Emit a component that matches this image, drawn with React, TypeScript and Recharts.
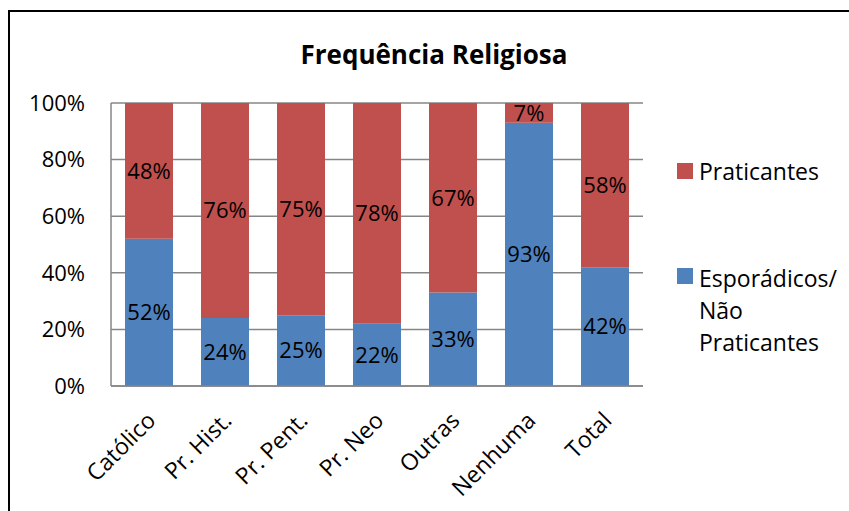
import { BarChart, Bar, XAxis, YAxis, CartesianGrid, LabelList } from "recharts";

const categories = ["Católico", "Pr. Hist.", "Pr. Pent.", "Pr. Neo", "Outras", "Nenhuma", "Total"];
const esporadicos = [52, 24, 25, 22, 33, 93, 42];
const praticantes = [48, 76, 75, 78, 67, 7, 58];
const yTicks = [0, 20, 40, 60, 80, 100];

const BLUE = "#4F81BD";
const RED = "#C0504D";
const GRID = "#868686";
const FONT = "'Open Sans', sans-serif";

const data = categories.map((c, i) => ({
  name: c,
  esporadicos: esporadicos[i],
  praticantes: praticantes[i],
}));

const pct = (v: any) => `${v}%`;

function XTick({ x, y, payload }: any) {
  return (
    <text
      x={x + 8}
      y={y + 28}
      transform={`rotate(-45, ${x + 8}, ${y + 28})`}
      textAnchor="end"
      fontSize={23}
      fontFamily={FONT}
      fill="#000"
    >
      {payload.value}
    </text>
  );
}

export default function App() {
  return (
    <div style={{ position: "relative", width: 849, height: 511, overflow: "hidden", background: "#fff" }}>
      <style>{"html,body{margin:0;padding:0;overflow:hidden;}"}</style>
      <div style={{ position: "absolute", left: 8, top: 8, width: 841, height: 503, fontFamily: FONT }}>
        <div
          style={{
            position: "absolute",
            left: 0,
            top: 2,
            width: 2000,
            height: 2000,
            borderTop: "2px solid #000",
            borderLeft: "2px solid #000",
          }}
        />
        <div
          style={{
            position: "absolute",
            left: 426,
            top: 28,
            transform: "translateX(-50%)",
            fontSize: 26,
            fontWeight: 700,
            whiteSpace: "nowrap",
            color: "#000",
          }}
        >
          Frequência Religiosa
        </div>
        <div style={{ position: "absolute", left: 0, top: 0 }}>
          <BarChart
            width={841}
            height={503}
            data={data}
            margin={{ top: 95, right: 206, bottom: 5, left: 23 }}
          >
            <CartesianGrid vertical={false} stroke={GRID} strokeWidth={1.5} />
            <XAxis
              dataKey="name"
              height={120}
              interval={0}
              tickLine={false}
              axisLine={{ stroke: GRID, strokeWidth: 1.5 }}
              tick={<XTick />}
            />
            <YAxis
              width={80}
              domain={[0, 100]}
              ticks={yTicks}
              tickFormatter={pct}
              tickLine={false}
              tickMargin={20}
              axisLine={{ stroke: GRID, strokeWidth: 1.5 }}
              tick={{ fontSize: 22, fontFamily: FONT, fill: "#000" }}
            />
            <Bar dataKey="esporadicos" stackId="a" fill={BLUE} barSize={48} isAnimationActive={false}>
              <LabelList dataKey="esporadicos" position="center" formatter={pct} fill="#000" fontSize={22} fontFamily={FONT} />
            </Bar>
            <Bar dataKey="praticantes" stackId="a" fill={RED} barSize={48} isAnimationActive={false}>
              <LabelList dataKey="praticantes" position="center" formatter={pct} fill="#000" fontSize={22} fontFamily={FONT} />
            </Bar>
          </BarChart>
        </div>
        <div style={{ position: "absolute", left: 669, top: 147, fontSize: 23, color: "#000", lineHeight: "32px" }}>
          <div style={{ display: "flex", alignItems: "center" }}>
            <span style={{ display: "inline-block", width: 16, height: 16, background: RED, marginRight: 6 }} />
            <span>Praticantes</span>
          </div>
        </div>
        <div style={{ position: "absolute", left: 669, top: 254, fontSize: 23, color: "#000", lineHeight: "32px" }}>
          <div style={{ display: "flex", alignItems: "flex-start" }}>
            <span style={{ display: "inline-block", width: 16, height: 16, background: BLUE, marginRight: 6, marginTop: 6, flexShrink: 0 }} />
            <span>
              Esporádicos/
              <br />
              Não
              <br />
              Praticantes
            </span>
          </div>
        </div>
      </div>
    </div>
  );
}
